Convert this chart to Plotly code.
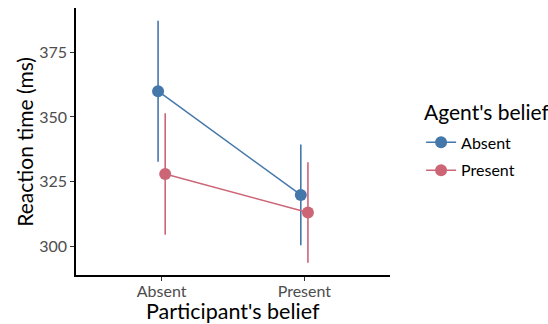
import plotly.graph_objects as go

participant_belief = ["Absent", "Present"]
agent_belief = ["Absent", "Present"]
rt_mean = {"Absent": [360.0, 319.8], "Present": [327.9, 313.0]}
rt_ci = {"Absent": [27.3, 19.5], "Present": [23.5, 19.5]}
colors = {"Absent": "#4477AA", "Present": "#CC6677"}
dodge = {"Absent": -0.025, "Present": 0.025}

FONT = "Lato"

fig = go.Figure()
for ab in agent_belief:
    xs = [i + 1 + dodge[ab] for i in range(len(participant_belief))]
    fig.add_trace(go.Scatter(
        x=xs, y=rt_mean[ab], name=ab, mode="lines+markers", legendgroup=ab,
        line=dict(color=colors[ab], width=1.5),
        marker=dict(color=colors[ab], size=12),
        error_y=dict(type="data", array=rt_ci[ab], color=colors[ab],
                     thickness=1.6, width=0),
    ))

fig.add_annotation(text="Participant's belief", xref="paper", yref="paper",
                   x=0.5, y=-0.135, xanchor="center", yanchor="middle", showarrow=False,
                   font=dict(size=21.5, color="black"))
fig.add_annotation(text="Reaction time (ms)", xref="paper", yref="paper",
                   x=-0.165, y=0.5, xanchor="center", yanchor="middle", showarrow=False,
                   textangle=-90, font=dict(size=21, color="black"))
# legend title
fig.add_annotation(text="Agent's belief", xref="paper", yref="paper",
                   x=1.102, y=0.614, xanchor="left", yanchor="middle", showarrow=False,
                   font=dict(size=21, color="black"))

fig.update_layout(
    width=548, height=324,
    margin=dict(l=76, r=158, t=8, b=49, autoexpand=False),
    plot_bgcolor="white", paper_bgcolor="white",
    font=dict(family=FONT, color="black"),
    showlegend=True,
    legend=dict(
        font=dict(size=16, color="black"),
        tracegroupgap=4,
        x=1.099, xanchor="left", y=0.444, yanchor="middle",
        bgcolor="rgba(0,0,0,0)",
    ),
    xaxis=dict(
        range=[0.4, 2.6], automargin=False,
        tickvals=[1, 2], ticktext=participant_belief,
        showline=True, linecolor="black", linewidth=1.6,
        ticks="outside", ticklen=4, tickwidth=1.2, tickcolor="#333333",
        showgrid=False, zeroline=False, ticklabelstandoff=-3,
        tickfont=dict(size=16, color="#4D4D4D"),
    ),
    yaxis=dict(
        range=[288.8, 392.2], automargin=False,
        tickvals=[300, 325, 350, 375],
        showline=True, linecolor="black", linewidth=1.6,
        ticks="outside", ticklen=4, tickwidth=1.2, tickcolor="#333333",
        showgrid=False, zeroline=False,
        tickfont=dict(size=16, color="#4D4D4D"),
    ),
)

fig.write_html("out.html", config={"displayModeBar": False},
               post_script="document.body.style.margin='0';document.body.style.overflow='hidden';")
